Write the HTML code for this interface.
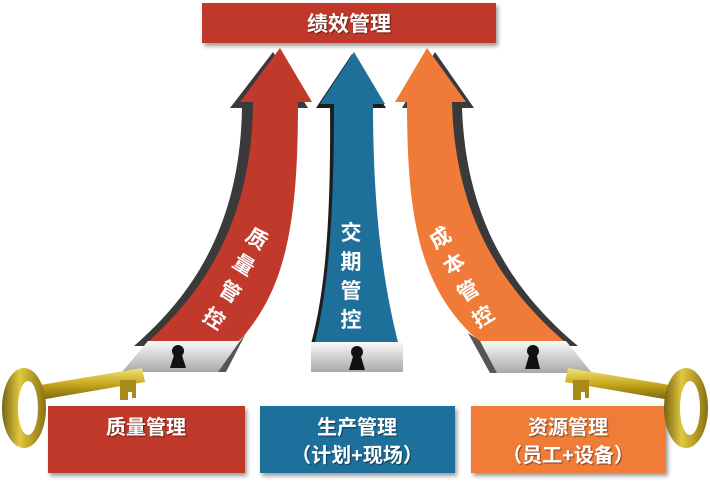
<!DOCTYPE html>
<html><head><meta charset="utf-8"><style>
body{margin:0;width:710px;height:496px;background:#fff;overflow:hidden;font-family:"Liberation Sans","Noto Sans CJK SC",sans-serif}
</style></head><body>
<svg width="710" height="496" viewBox="0 0 710 496" xmlns="http://www.w3.org/2000/svg" font-family="Liberation Sans, Noto Sans CJK SC, sans-serif">
<defs>
<linearGradient id="lk" x1="0" y1="0" x2="0" y2="1"><stop offset="0" stop-color="#fafafa"/><stop offset="1" stop-color="#a8a8a8"/></linearGradient>
<linearGradient id="gold" x1="0" y1="0" x2="0" y2="1"><stop offset="0" stop-color="#f3e27a"/><stop offset="0.5" stop-color="#c9a81c"/><stop offset="1" stop-color="#7a6410"/></linearGradient>
<linearGradient id="gold2" x1="0" y1="0" x2="1" y2="0"><stop offset="0" stop-color="#7a6410"/><stop offset="0.4" stop-color="#e0c840"/><stop offset="1" stop-color="#8a7012"/></linearGradient>
<filter id="sh" x="-10%" y="-10%" width="130%" height="140%"><feDropShadow dx="2" dy="3" stdDeviation="2" flood-opacity="0.4"/></filter>
<filter id="ts"><feDropShadow dx="1" dy="1" stdDeviation="0.5" flood-opacity="0.5"/></filter>
</defs>
<rect x="202" y="3" width="294" height="40" fill="#c0392b" filter="url(#sh)"/>
<text x="349" y="31" text-anchor="middle" font-size="21" font-weight="bold" fill="#fff" filter="url(#ts)">绩效管理</text>

<path d="M279,48 L236,104 L248,104 C246,220 200,290 140,342 L228,342 C280,290 300,220 300,104 L314,104 Z" fill="#3a3a3a" transform="translate(-6,4)"/>
<path d="M280,48 L240,102 L253,102 C252,220 205,290 148,342 L238,342 C287,290 298,220 298,102 L312,102 Z" fill="#c0392b"/>
<path d="M354,52 L318,106 L332,106 C333,220 327,290 313,342 L400,342 C386,290 373,220 373,106 L388,106 Z" fill="#1e1e1e" transform="translate(-2,2)"/>
<path d="M354,52 L320,104 L334,104 C334,220 328,290 315,342 L398,342 C385,290 373,220 373,104 L385,104 Z" fill="#1f6f9b"/>
<path d="M429,48 L468,104 L456,104 C460,220 510,290 572,342 L486,342 C425,290 410,220 410,104 L396,104 Z" fill="#3a3a3a" transform="translate(6,4)"/>
<path d="M427,48 L466,102 L452,102 C455,220 505,290 565,342 L480,342 C420,290 407,220 407,102 L395,102 Z" fill="#f07b39"/>

<g font-size="21" font-weight="bold" fill="#fff">
<g transform="translate(253,245) rotate(32)"><text x="0" y="0" text-anchor="middle">质</text></g>
<g transform="translate(240,271) rotate(32)"><text x="0" y="0" text-anchor="middle">量</text></g>
<g transform="translate(226,298) rotate(32)"><text x="0" y="0" text-anchor="middle">管</text></g>
<g transform="translate(210,325) rotate(32)"><text x="0" y="0" text-anchor="middle">控</text></g>
<text x="351" y="240" text-anchor="middle">交</text>
<text x="351" y="269" text-anchor="middle">期</text>
<text x="351" y="298" text-anchor="middle">管</text>
<text x="351" y="327" text-anchor="middle">控</text>
<g transform="translate(444,244) rotate(-32)"><text x="0" y="0" text-anchor="middle">成</text></g>
<g transform="translate(458,270) rotate(-32)"><text x="0" y="0" text-anchor="middle">本</text></g>
<g transform="translate(472,297) rotate(-32)"><text x="0" y="0" text-anchor="middle">管</text></g>
<g transform="translate(487,323) rotate(-32)"><text x="0" y="0" text-anchor="middle">控</text></g>
</g>

<path d="M148,341 L240,341 L218,372 L122,372 Z" fill="url(#lk)"/>
<path d="M240,341 L246,333 L226,372 L218,372 Z" fill="#555"/>
<circle cx="178" cy="351" r="6" fill="#111"/><path d="M175,352 L170,368 L186,368 L181,352 Z" fill="#111"/>
<rect x="311" y="342" width="92" height="30" fill="url(#lk)"/>
<circle cx="357" cy="352" r="6" fill="#111"/><path d="M354,353 L349,370 L365,370 L360,353 Z" fill="#111"/>
<path d="M480,341 L566,341 L592,373 L497,373 Z" fill="url(#lk)"/>
<path d="M480,341 L468,333 L490,373 L497,373 Z" fill="#555"/>
<circle cx="533" cy="351" r="6" fill="#111"/><path d="M530,352 L525,369 L540,369 L536,352 Z" fill="#111"/>

<rect x="48" y="406" width="197" height="67" fill="#c0392b" filter="url(#sh)"/>
<rect x="260" y="406" width="195" height="67" fill="#1f6f9b" filter="url(#sh)"/>
<rect x="471" y="406" width="195" height="67" fill="#f07b39" filter="url(#sh)"/>
<g font-size="20" font-weight="bold" fill="#fff" text-anchor="middle" filter="url(#ts)">
<text x="146" y="434">质量管理</text>
<text x="357" y="434">生产管理</text>
<text x="357" y="462">（计划+现场）</text>
<text x="568" y="434">资源管理</text>
<text x="568" y="462">（员工+设备）</text>
</g>

<path d="M40,385 L142,368 L145,382 L40,400 Z" fill="url(#gold)"/>
<path d="M120,380 h16 v18 h-4 v-6 h-4 v8 h-8 z" fill="#a88a18"/>
<ellipse cx="24" cy="408" rx="22" ry="40" fill="url(#gold2)"/>
<ellipse cx="28" cy="408" rx="10" ry="27" fill="#fff"/>
<path d="M670,385 L568,368 L565,382 L670,400 Z" fill="url(#gold)"/>
<path d="M573,380 h16 v18 h-4 v-6 h-4 v8 h-8 z" fill="#a88a18"/>
<ellipse cx="686" cy="408" rx="22" ry="40" fill="url(#gold2)"/>
<ellipse cx="690" cy="408" rx="10" ry="27" fill="#fff"/>
</svg>
</body></html>
